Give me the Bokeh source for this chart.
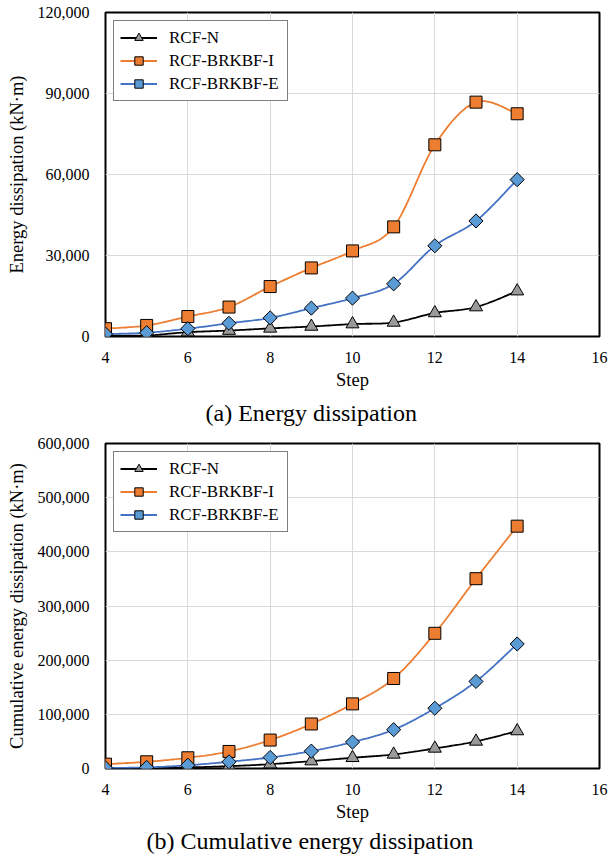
import numpy as np
from bokeh.plotting import figure
from bokeh.models import (Legend, LegendItem, FixedTicker, NumeralTickFormatter,
                          Title, Range1d)
from bokeh.layouts import column
from bokeh.embed import file_html
from bokeh.resources import INLINE

# ---------------- data ----------------
steps = [4, 5, 6, 7, 8, 9, 10, 11, 12, 13, 14]
series_names = ["RCF-N", "RCF-BRKBF-I", "RCF-BRKBF-E"]

# (a) Energy dissipation (kN·m)
ed_rcf_n = [300, 400, 1600, 2200, 3000, 3700, 4600, 5200, 8700, 10900, 16800]
ed_brkbf_i = [2900, 4100, 7400, 10900, 18500, 25400, 31700, 40600, 71000, 86800, 82500]
ed_brkbf_e = [900, 1400, 2900, 4900, 6900, 10500, 14200, 19500, 33600, 42800, 58100]

# (b) Cumulative energy dissipation (kN·m)
ced_rcf_n = [500, 1000, 2000, 4300, 8000, 13600, 19800, 26000, 37100, 50000, 69200]
ced_brkbf_i = [8000, 12400, 19800, 31500, 52500, 82200, 119300, 166200, 249600, 350400, 447400]
ced_brkbf_e = [1000, 2000, 6000, 12400, 20400, 32100, 48800, 71700, 111200, 160700, 229900]

x_ticks = [4, 6, 8, 10, 12, 14, 16]
yticks_a = [0, 30000, 60000, 90000, 120000]
yticks_b = [0, 100000, 200000, 300000, 400000, 500000, 600000]

FONT = "Liberation Serif, Times New Roman, serif"
line_colors = ["#000000", "#ED7D31", "#4472C4"]
fill_colors = ["#9A9A9A", "#ED7D31", "#5B9BD5"]
markers = ["triangle", "square", "square"]
marker_sizes = [13, 12, 10]
marker_angles = [0, 0, np.pi / 4]

PAGE_W = 613
FRAME_L = 105
FRAME_W = 494


def smooth(x, y, n=24):
    """Excel-like smoothed line (Bezier through the data points)."""
    x = np.asarray(x, float)
    y = np.asarray(y, float)
    N = len(x)
    xs, ys = [], []
    for i in range(N - 1):
        i0 = i - 1 if i > 0 else i
        i3 = i + 2 if i + 2 < N else i + 1
        c1x = x[i] + (x[i + 1] - x[i0]) / 6.0
        c1y = y[i] + (y[i + 1] - y[i0]) / 6.0
        c2x = x[i + 1] - (x[i3] - x[i]) / 6.0
        c2y = y[i + 1] - (y[i3] - y[i]) / 6.0
        t = np.linspace(0, 1, n, endpoint=(i == N - 2))
        a = (1 - t) ** 3
        b = 3 * (1 - t) ** 2 * t
        c = 3 * (1 - t) * t ** 2
        d = t ** 3
        xs.append(a * x[i] + b * c1x + c * c2x + d * x[i + 1])
        ys.append(a * y[i] + b * c1y + c * c2y + d * y[i + 1])
    return np.concatenate(xs), np.concatenate(ys)


def make_fig(series, yticks, ylabel, caption, height, border_top,
             caption_offset, caption_standoff):
    p = figure(width=PAGE_W, height=height, output_backend="svg",
               toolbar_location=None,
               x_range=Range1d(4, 16), y_range=Range1d(0, yticks[-1]),
               min_border_left=FRAME_L,
               min_border_right=PAGE_W - FRAME_L - FRAME_W,
               min_border_top=border_top, min_border_bottom=0)
    p.background_fill_color = "white"
    p.border_fill_color = "white"
    p.outline_line_color = "black"
    p.outline_line_width = 2

    for ax in (p.xaxis[0], p.yaxis[0]):
        ax.axis_line_color = None
        ax.major_tick_line_color = None
        ax.minor_tick_line_color = None
        ax.major_label_text_font = FONT
        ax.major_label_text_font_size = "16px"
        ax.major_label_text_color = "black"
        ax.axis_label_text_font = FONT
        ax.axis_label_text_font_size = "18.5px"
        ax.axis_label_text_font_style = "normal"
        ax.axis_label_text_color = "black"

    p.xaxis.ticker = FixedTicker(ticks=x_ticks)
    p.yaxis.ticker = FixedTicker(ticks=yticks)
    p.yaxis.formatter = NumeralTickFormatter(format="0,0")
    p.xaxis.axis_label = "Step"
    p.yaxis.axis_label = ylabel
    p.xaxis.major_label_standoff = 9
    p.yaxis.major_label_standoff = 10
    p.xaxis.axis_label_standoff = 4
    p.yaxis.axis_label_standoff = 8

    p.xgrid.grid_line_color = "#D9D9D9"
    p.ygrid.grid_line_color = "#D9D9D9"
    p.xgrid.grid_line_width = 1
    p.ygrid.grid_line_width = 1

    items = []
    for k, yv in enumerate(series):
        sx, sy = smooth(steps, yv)
        lr = p.line(sx, sy, line_color=line_colors[k], line_width=1.8)
        mr = p.scatter(steps, yv, marker=markers[k], size=marker_sizes[k],
                       angle=marker_angles[k],
                       fill_color=fill_colors[k], line_color="black",
                       line_width=1)
        items.append(LegendItem(label=series_names[k], renderers=[lr, mr]))

    legend = Legend(items=items, location="top_left", margin=8, padding=6,
                    spacing=2, glyph_width=37, glyph_height=21,
                    label_height=21, label_standoff=12, label_width=112,
                    label_text_font=FONT, label_text_font_size="17px",
                    label_text_color="black",
                    border_line_color="black", border_line_width=1.5,
                    background_fill_color="white", background_fill_alpha=1)
    p.add_layout(legend)

    p.add_layout(Title(text=caption, align="left", offset=caption_offset,
                       vertical_align="top",
                       text_font=FONT, text_font_size="24px",
                       text_font_style="normal", text_color="black",
                       standoff=caption_standoff), "below")
    return p


# fig 1: frame page y 12..336 ; fig 2: frame page y 443..768
p1 = make_fig([ed_rcf_n, ed_brkbf_i, ed_brkbf_e], yticks_a,
              "Energy dissipation (kN·m)", "(a) Energy dissipation",
              434, 12, 100, 14)
p2 = make_fig([ced_rcf_n, ced_brkbf_i, ced_brkbf_e], yticks_b,
              "Cumulative energy dissipation (kN·m)",
              "(b) Cumulative energy dissipation",
              424, 9, 41, 6)

layout = column(p1, p2, spacing=0)
open("out.html", "w").write(file_html(layout, INLINE))
